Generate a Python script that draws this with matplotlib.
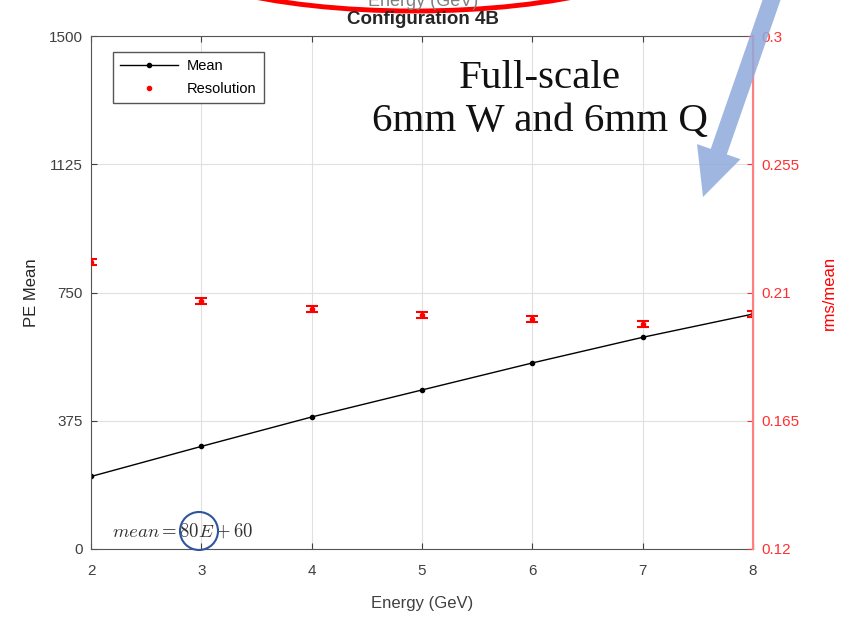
import matplotlib
matplotlib.use('Agg')
import matplotlib.pyplot as plt
from matplotlib.patches import Ellipse, Circle, FancyArrow
from matplotlib.transforms import IdentityTransform
from matplotlib.lines import Line2D

plt.rcParams['font.family'] = ['Liberation Sans', 'DejaVu Sans']

# energie (GeV) e valori
energy = [2, 3, 4, 5, 6, 7, 8]
pe_mean = [212, 300, 386, 465, 544, 619, 687]
resolution = [0.2207, 0.2070, 0.2042, 0.2021, 0.2007, 0.1990, 0.2025]
res_err = [0.0010, 0.0010, 0.0010, 0.0010, 0.0010, 0.0010, 0.0010]

left_ticks = [0, 375, 750, 1125, 1500]
right_ticks = [0.12, 0.165, 0.21, 0.255, 0.3]

W, H = 845, 621
fig = plt.figure(figsize=(W / 100, H / 100), dpi=100)
ax = fig.add_axes([91 / W, 1 - 549 / H, (753 - 91) / W, (549 - 36) / H])
ax2 = ax.twinx()

gray = '#262626'
red = '#FF0000'

ax.plot(energy, pe_mean, '-', color='black', marker='o', markersize=3, linewidth=1)
ax.set_xlim(2, 8)
ax.set_ylim(0, 1500)
ax.set_xticks(energy)
ax.set_yticks(left_ticks)
ax.set_yticklabels([str(t) for t in left_ticks])
ax.grid(True, color='#E0E0E0', linewidth=0.8)
ax.set_axisbelow(True)
ax.tick_params(direction='in', top=True, length=4, labelsize=11, colors='#404040')
ax.tick_params(axis='x', pad=11)
ax.tick_params(axis='y', pad=6)
for s in ['left', 'bottom', 'top']:
    ax.spines[s].set_color('#555555')
ax.set_xlabel('Energy (GeV)', fontsize=12, color='#404040', labelpad=13)
ax.set_ylabel('PE Mean', fontsize=12, color=gray, labelpad=7)

ax2.errorbar(energy, resolution, yerr=res_err, fmt='o', color=red, markersize=3,
             capsize=4, elinewidth=1.5, capthick=1.5)
ax2.set_ylim(0.12, 0.3)
ax2.set_yticks(right_ticks)
ax2.set_yticklabels(['0.12', '0.165', '0.21', '0.255', '0.3'])
ax2.tick_params(direction='in', length=4, labelsize=11, colors='#FF3030', pad=6)
ax2.spines['right'].set_color('#FF8080')
ax2.spines['right'].set_linewidth(1.5)
for s in ['left', 'bottom', 'top']:
    ax2.spines[s].set_visible(False)
ax2.set_ylabel('rms/mean', fontsize=12, color=red, labelpad=16)

handles = [Line2D([], [], color='black', marker='o', markersize=3, linewidth=1),
           Line2D([], [], color=red, marker='o', markersize=3, linestyle='none')]
leg = ax.legend(handles, ['Mean', 'Resolution'], loc='upper left',
                bbox_to_anchor=(0.022, 0.983), fontsize=10.5, fancybox=False,
                framealpha=1, edgecolor='#555555', handlelength=4,
                borderpad=0.5, labelspacing=0.6, handletextpad=0.6)
leg.get_frame().set_linewidth(1)

ax.text(112 / W, 1 - 531 / H, r'$mean = 80E + 60$', transform=fig.transFigure,
        fontsize=13.5, color='#333333', math_fontfamily='cm', va='center')

# sovrapposizioni della slide
fig.text(423 / W, 1 - 19 / H, 'Configuration 4B', ha='center', va='center',
         fontsize=13.5, fontweight='bold', color=gray)
fig.text(423 / W, 1 - 1 / H, 'Energy (GeV)', ha='center', va='center',
         fontsize=13, color='#808080')
fig.text(540 / W, 1 - 100 / H, 'Full-scale\n6mm W and 6mm Q', ha='center', va='center',
         fontsize=29.5, family='Liberation Serif', color='#111111', linespacing=1.2)

it = IdentityTransform()
fig.add_artist(Ellipse((414, H + 60), 535, 142, fill=False, edgecolor=red,
                       linewidth=3.5, transform=it))
fig.add_artist(Circle((199, H - 531), 19, fill=False, edgecolor='#2F55A0',
                      linewidth=1.5, transform=it))
fig.add_artist(FancyArrow(775, H + 10, -72, -207, width=17, head_width=46,
                          head_length=48, length_includes_head=True,
                          color='#8EA9DB', alpha=0.85, linewidth=0, transform=it))

fig.savefig('out.png', dpi=100)
